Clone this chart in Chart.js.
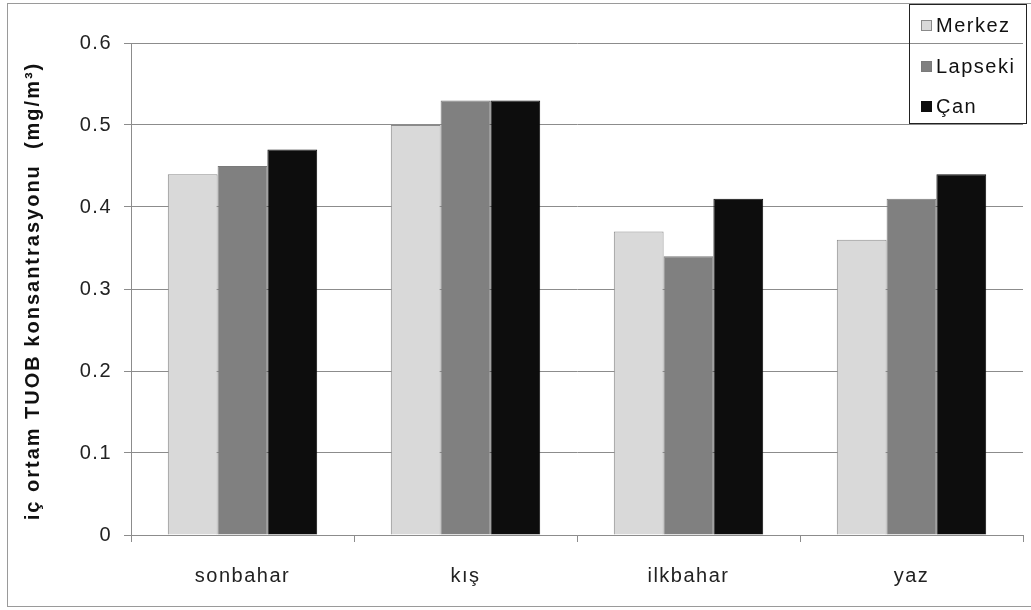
<!DOCTYPE html>
<html>
<head>
<meta charset="utf-8">
<script src="https://cdn.jsdelivr.net/npm/chart.js@4/dist/chart.umd.min.js"></script>
<style>
  html, body { margin: 0; padding: 0; background: #ffffff; }
  #wrap { width: 1031px; height: 610px; }
</style>
</head>
<body>
<div id="wrap"><canvas id="c" width="1031" height="610"></canvas></div>
<script>
// Seasons on the x axis
const seasons = ['sonbahar', 'kış', 'ilkbahar', 'yaz'];

// Indoor TVOC concentration (mg/m³) per district
const merkez  = [0.44, 0.50, 0.37, 0.36];
const lapseki = [0.45, 0.53, 0.34, 0.41];
const can     = [0.47, 0.53, 0.41, 0.44];

// Y axis tick values
const yTicks = [0, 0.1, 0.2, 0.3, 0.4, 0.5, 0.6];

const seriesNames = ['Merkez', 'Lapseki', 'Çan'];
const fills = ['#d9d9d9', '#808080', '#0d0d0d'];
const edges = ['#8a8a8a', '#7a7a7a', '#0d0d0d'];

const yTitle = 'iç ortam TUOB konsantrasyonu  (mg/m³)';

const FONT = '"Liberation Sans", Arial, sans-serif';
const GRID = '#8c8c8c';
const TEXT_SPACING = '1.5px';

// Slightly open letter spacing for all canvas text
const spacingPlugin = {
  id: 'spacing',
  beforeUpdate(chart) { chart.ctx.letterSpacing = TEXT_SPACING; },
  beforeDraw(chart) { chart.ctx.letterSpacing = TEXT_SPACING; }
};

// Outer frame around the whole figure
const framePlugin = {
  id: 'frame',
  afterDraw(chart) {
    const ctx = chart.ctx;
    ctx.save();
    ctx.strokeStyle = '#9a9a9a';
    ctx.lineWidth = 1;
    ctx.strokeRect(7.5, 3.5, 1030, 603);
    ctx.restore();
  }
};

// Rotated bold y axis title
const yTitlePlugin = {
  id: 'yTitle',
  afterDraw(chart) {
    const ctx = chart.ctx;
    const a = chart.chartArea;
    ctx.save();
    ctx.translate(33, (a.top + a.bottom) / 2 + 2);
    ctx.rotate(-Math.PI / 2);
    ctx.letterSpacing = '2px';
    ctx.font = 'bold 20px ' + FONT;
    ctx.fillStyle = '#111111';
    ctx.textAlign = 'center';
    ctx.textBaseline = 'middle';
    ctx.fillText(yTitle, 0, 0);
    ctx.restore();
  }
};

// Boxed legend in the upper right corner, see-through so the grid shows
const boxLegend = {
  id: 'boxLegend',
  afterDraw(chart) {
    const ctx = chart.ctx;
    const x0 = 909, y0 = 4, w = 117, h = 119;
    ctx.save();
    ctx.strokeStyle = '#222222';
    ctx.lineWidth = 1;
    ctx.strokeRect(x0 + 0.5, y0 + 0.5, w, h);
    ctx.letterSpacing = TEXT_SPACING;
    ctx.font = '20px ' + FONT;
    ctx.textBaseline = 'middle';
    ctx.textAlign = 'left';
    const rows = [25, 66, 106];
    chart.data.datasets.forEach((ds, i) => {
      const cy = rows[i];
      ctx.fillStyle = ds.backgroundColor;
      ctx.fillRect(921, cy - 5, 11, 11);
      ctx.strokeStyle = ds.borderColor;
      ctx.strokeRect(921.5, cy - 4.5, 10, 10);
      ctx.fillStyle = '#111111';
      ctx.fillText(ds.label, 936, cy + 1);
    });
    ctx.restore();
  }
};

const data = {
  labels: seasons,
  datasets: [merkez, lapseki, can].map((vals, i) => ({
    label: seriesNames[i],
    data: vals,
    backgroundColor: fills[i],
    borderColor: edges[i],
    borderWidth: 1,
    borderSkipped: 'bottom',
    barPercentage: 1.0,
    categoryPercentage: 0.67
  }))
};

new Chart(document.getElementById('c'), {
  type: 'bar',
  data: data,
  plugins: [spacingPlugin, framePlugin, yTitlePlugin, boxLegend],
  options: {
    responsive: false,
    devicePixelRatio: 1,
    animation: false,
    layout: { padding: { top: 43, right: 8, left: 0, bottom: 0 } },
    plugins: {
      legend: { display: false },
      tooltip: { enabled: false }
    },
    scales: {
      x: {
        afterFit(scale) { scale.height = 75; },
        grid: {
          offset: true,
          drawOnChartArea: false,
          drawTicks: true,
          tickLength: 7,
          color: GRID
        },
        border: { display: true, color: GRID, width: 1 },
        ticks: {
          color: '#222222',
          font: { family: FONT, size: 20 },
          padding: 22,
          maxRotation: 0
        }
      },
      y: {
        min: 0,
        max: 0.6,
        afterFit(scale) { scale.width = 131; },
        afterBuildTicks(scale) {
          scale.ticks = yTicks.map(v => ({ value: v }));
        },
        grid: {
          color: GRID,
          lineWidth: 1,
          drawTicks: true,
          tickLength: 7
        },
        border: { display: true, color: GRID, width: 1 },
        ticks: {
          color: '#222222',
          font: { family: FONT, size: 20 },
          padding: 12,
          callback: v => String(v)
        },
        title: { display: false }
      }
    }
  }
});
</script>
</body>
</html>
